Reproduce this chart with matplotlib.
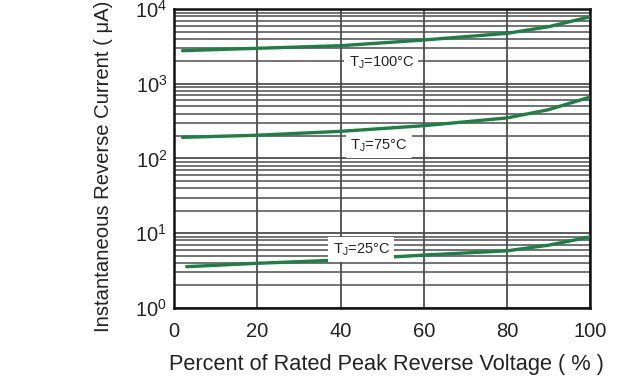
import matplotlib.pyplot as plt
from matplotlib.ticker import LogLocator, NullFormatter

plt.rcParams["font.family"] = ["Liberation Sans", "DejaVu Sans"]

# Reverse current curves (percent of rated voltage -> uA)
pct_100c = [2, 20, 40, 60, 80, 90, 100]
cur_100c = [2780, 2990, 3240, 3860, 4740, 5810, 7890]

pct_75c = [2, 20, 40, 60, 80, 90, 100]
cur_75c = [192, 205, 231, 275, 349, 450, 664]

pct_25c = [3, 20, 40, 60, 80, 90, 100]
cur_25c = [3.56, 3.95, 4.37, 5.09, 5.8, 6.9, 8.9]

labels = ["T$_\\mathregular{J}$=100°C", "T$_\\mathregular{J}$=75°C", "T$_\\mathregular{J}$=25°C"]
label_x = [49.8, 49.2, 45]
label_y = [1935, 149, 6.0]

x_ticks = [0, 20, 40, 60, 80, 100]

fig = plt.figure(figsize=(6.29, 3.81), dpi=100)
ax = fig.add_axes([0.277, 0.192, 0.661, 0.784])

line_color = "#1c8045"
for xs, ys in [(pct_100c, cur_100c), (pct_75c, cur_75c), (pct_25c, cur_25c)]:
    ax.plot(xs, ys, color=line_color, lw=2.4, solid_capstyle="round", zorder=3)

for text, x, y in zip(labels, label_x, label_y):
    ax.text(x, y, text, ha="center", va="center", fontsize=10.5, color="#222222",
            bbox=dict(facecolor="white", edgecolor="none", pad=3), zorder=4)

ax.set_yscale("log")
ax.set_xlim(0, 100)
ax.set_ylim(1, 1e4)
ax.set_xticks(x_ticks)
ax.yaxis.set_major_locator(LogLocator(base=10, numticks=10))
ax.yaxis.set_minor_locator(LogLocator(base=10, subs=range(2, 10), numticks=100))
ax.yaxis.set_minor_formatter(NullFormatter())

ax.grid(which="major", axis="both", color="#4d4d4d", lw=1.3, zorder=1)
ax.grid(which="minor", axis="y", color="#4d4d4d", lw=1.1, zorder=1)
ax.tick_params(which="both", length=0, labelsize=14.5, colors="#222222")
ax.tick_params(axis="x", pad=10)
ax.tick_params(axis="y", pad=5)
for side in ["left", "right", "top", "bottom"]:
    ax.spines[side].set_linewidth(1.8)
    ax.spines[side].set_color("#111111")

ax.set_xlabel("Percent of Rated Peak Reverse Voltage ( % )", fontsize=15.7, color="#222222")
ax.xaxis.set_label_coords(0.51, -0.155)
ax.set_ylabel("Instantaneous Reverse Current ( μA)", fontsize=14.6, color="#222222")
ax.yaxis.set_label_coords(-0.148, 0.475)

fig.savefig("out.png", dpi=100)
